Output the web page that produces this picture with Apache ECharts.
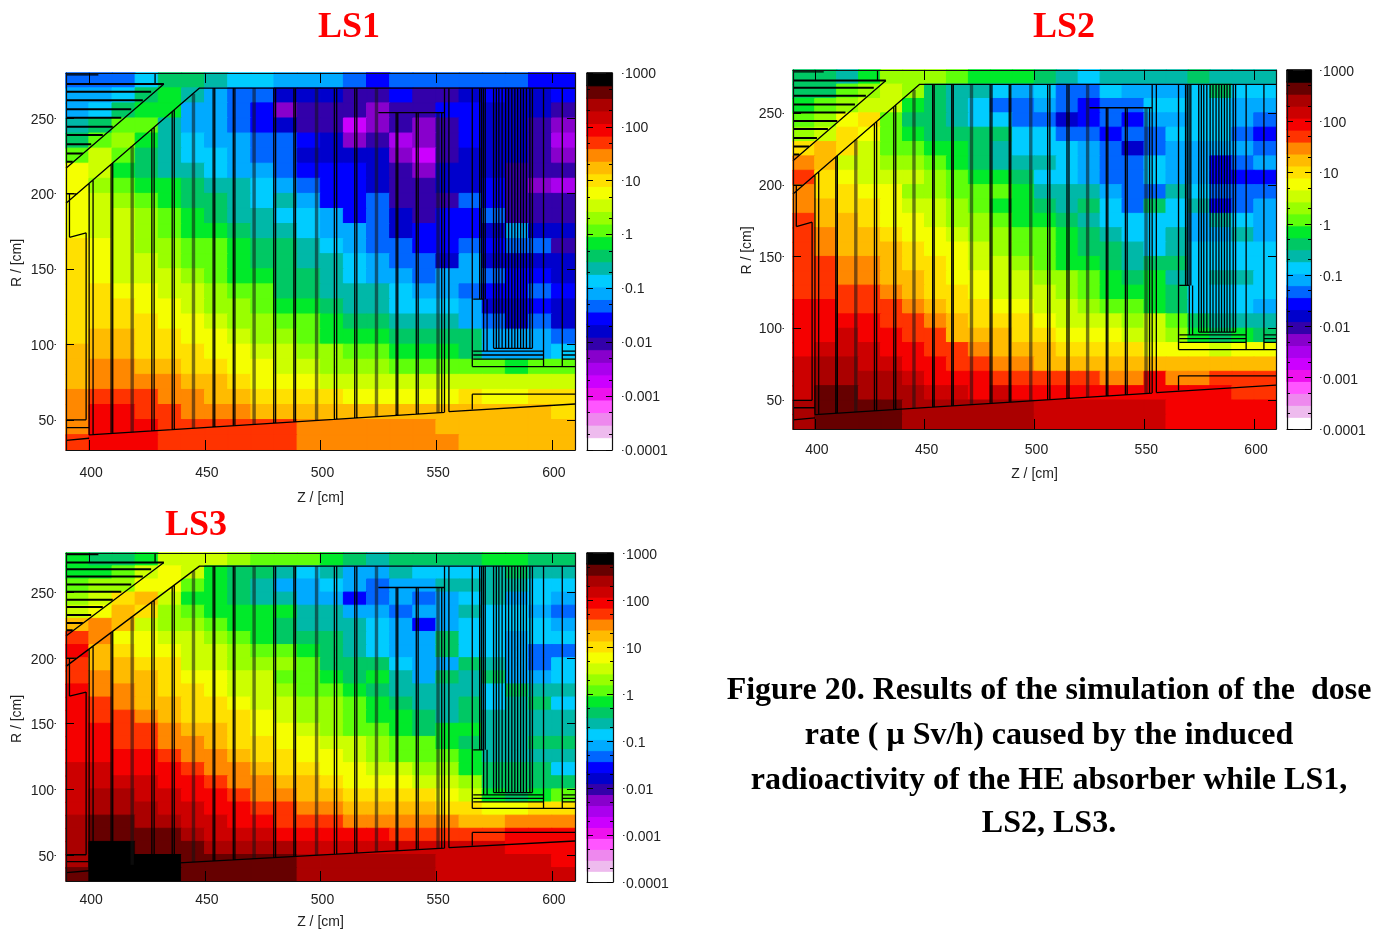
<!DOCTYPE html>
<html><head><meta charset="utf-8">
<style>html,body{margin:0;padding:0;background:#fff}#c{width:1374px;height:930px}</style>
<script src="https://cdn.jsdelivr.net/npm/echarts@6/dist/echarts.min.js"></script>
</head><body><div id="c"></div>
<script>
// colour scale: 30 levels over 7 decades (level 0 = 0.0001 ... level 29 = 1000)
const palette = ['#ffffff','#eebbee','#ee88ee','#ff55ff','#ee11ee','#cc00ff','#aa00ee','#8800cc','#3300aa','#0000cc',
 '#0000ff','#0066ff','#00aaff','#00ccff','#00b8a8','#00c864','#00ea2a','#5fff0a','#99ff00','#ccff00',
 '#f5ff00','#ffe000','#ffbb00','#ff8800','#ff3300','#f50000','#cc0000','#aa0000','#660000','#000000'];
const zBins = [390,400,410,420,430,440,450,460,470,480,490,500,510,520,530,540,550,560,570,580,590,600];
const rBins = [270,260,250,240,230,220,210,200,190,180,170,160,150,140,130,120,110,100,90,80,70,60,50,40,30];
const zTicks = [400,450,500,550,600];
const rTicks = [50,100,150,200,250];
const scaleLabels = ['0.0001','0.001','0.01','0.1','1','10','100','1000'];
const scaleMajor = [-4,-3,-2,-1,0,1,2,3];
const scaleMinor = [-3.699,-3.301,-2.699,-2.301,-1.699,-1.301,-0.699,-0.301,0.301,0.699,1.301,1.699,2.301,2.699];

const ls1 = [
[11,11,11,13,15,15,14,13,13,12,12,12,11,10,11,11,11,11,11,11,10,10],
[12,12,13,15,16,14,12,11,11,9,9,9,8,8,10,8,8,9,10,9,9,10],
[12,13,15,16,16,12,12,11,10,7,8,8,8,7,8,8,10,10,9,9,9,8],
[14,15,17,17,14,12,12,11,10,9,8,8,5,7,8,7,8,10,9,9,8,7],
[15,17,18,16,14,13,12,12,11,11,10,9,7,8,6,7,8,10,9,9,8,6],
[17,19,17,15,14,13,13,12,11,11,9,9,9,9,7,5,8,9,9,9,8,7],
[20,19,16,15,14,14,13,12,12,11,10,10,10,9,8,7,9,9,9,8,8,8],
[20,18,17,16,16,15,14,14,13,12,11,10,10,9,8,8,9,9,10,8,7,6],
[20,19,18,17,16,15,15,14,13,14,12,10,10,11,8,8,8,11,10,8,8,8],
[20,19,19,18,17,16,15,14,14,13,13,12,10,11,9,8,10,10,11,8,8,8],
[20,19,19,18,17,16,16,15,14,14,13,12,12,11,9,10,10,10,9,12,9,9],
[21,20,19,18,18,17,17,16,15,15,14,13,12,11,11,10,10,11,10,11,11,8],
[21,20,19,19,18,17,17,16,15,15,14,14,13,12,11,11,9,12,9,9,9,9],
[21,20,19,19,19,18,17,16,16,15,15,14,13,12,12,11,12,12,11,10,10,9],
[21,21,20,20,19,19,18,17,17,15,15,14,14,14,13,12,12,11,10,10,11,10],
[21,21,21,20,20,19,18,18,17,16,16,15,14,14,13,13,13,12,9,9,10,9],
[21,21,21,21,20,20,19,18,18,17,17,16,15,15,14,14,14,12,11,9,11,9],
[21,22,22,21,21,20,20,19,18,18,17,16,16,16,15,15,15,15,12,12,12,11],
[22,22,22,21,21,21,20,20,19,19,18,18,17,17,16,16,16,15,12,12,12,13],
[22,23,23,22,22,21,21,20,20,19,19,18,18,18,17,17,17,17,17,16,17,17],
[22,23,23,23,23,22,22,21,20,20,20,19,19,19,19,19,19,19,19,19,19,19],
[23,24,24,24,23,23,22,22,21,21,21,21,20,20,20,20,20,21,20,20,21,21],
[23,25,25,24,24,23,23,23,22,22,22,22,22,22,22,22,22,22,22,22,22,21],
[23,25,25,25,24,24,24,24,24,24,23,23,23,23,23,23,22,22,22,22,22,22],
[24,25,25,25,24,24,24,24,24,24,23,23,23,23,23,23,23,22,22,22,22,22]];

const ls2 = [
[15,15,14,16,18,18,18,17,16,16,16,15,14,13,14,14,14,14,15,14,14,14],
[15,15,17,18,19,18,15,14,14,13,12,13,11,11,13,12,12,12,13,15,13,13],
[16,17,18,19,19,16,15,14,13,11,11,12,11,10,11,11,13,13,13,13,12,12],
[17,18,20,21,17,15,15,14,13,13,11,11,9,10,11,10,12,12,13,13,12,11],
[18,19,21,20,17,16,15,15,15,15,13,13,11,11,10,11,11,13,13,13,11,10],
[21,22,21,19,17,17,16,16,15,14,13,13,13,12,11,9,11,12,12,12,12,11],
[23,22,19,19,18,18,17,16,15,14,14,14,13,12,11,11,13,12,12,10,11,12],
[24,21,20,19,19,19,18,17,16,16,15,13,13,12,11,11,13,12,12,10,10,10],
[23,21,21,20,20,18,18,17,17,17,16,14,14,14,12,11,11,14,13,11,11,11],
[23,22,21,21,20,19,19,18,17,16,16,15,14,15,13,11,15,13,14,10,11,12],
[24,22,22,21,20,20,19,18,18,17,16,16,15,14,13,13,13,13,12,14,13,12],
[24,23,22,22,21,20,20,19,18,18,17,17,16,15,14,13,13,14,12,12,14,12],
[24,23,22,22,22,21,20,20,19,18,17,17,16,15,15,14,13,14,13,13,13,13],
[24,24,23,23,22,21,21,20,19,19,18,17,16,16,15,14,15,15,13,13,13,13],
[24,24,23,23,22,22,21,20,20,19,19,18,18,17,16,15,16,14,13,14,14,13],
[24,24,24,24,23,22,21,21,20,19,19,19,18,17,16,16,16,15,13,13,13,13],
[25,25,24,24,24,23,22,21,21,20,20,19,19,18,17,17,16,15,13,13,13,12],
[25,25,25,25,24,24,23,22,21,21,21,20,19,19,19,18,19,17,15,14,14,14],
[25,25,26,25,25,24,24,22,22,22,21,21,20,20,20,19,19,18,16,15,16,15],
[25,26,26,26,25,25,24,24,23,22,22,22,21,21,21,21,20,20,20,19,20,20],
[26,27,27,26,26,25,25,24,24,23,23,22,22,22,22,22,22,22,22,22,22,22],
[26,27,27,27,27,26,25,25,25,24,24,24,24,24,23,23,25,23,23,24,24,24],
[26,28,28,27,27,27,26,26,25,26,25,25,25,25,25,25,25,25,25,25,24,24],
[27,28,28,28,28,27,27,27,27,27,27,26,26,26,26,26,26,25,25,25,25,25],
[27,28,28,28,28,27,27,27,27,27,27,26,26,26,26,26,26,25,25,25,25,25]];

const ls3 = [
[16,15,15,16,19,19,19,18,17,17,17,16,15,14,15,15,15,15,16,16,15,15],
[16,16,17,19,20,19,16,15,15,14,13,14,12,12,14,13,13,13,14,15,14,14],
[17,18,18,20,20,17,16,15,14,12,12,13,12,11,12,12,14,14,14,14,13,13],
[18,19,21,22,19,16,16,15,14,14,12,12,10,11,12,11,12,13,14,12,13,12],
[19,20,22,21,18,17,16,16,16,16,14,14,12,12,11,12,12,14,13,13,12,11],
[22,23,22,19,18,18,17,16,16,15,14,14,14,13,12,10,12,13,13,13,13,12],
[24,23,20,20,19,19,18,17,16,15,15,15,14,13,12,12,15,13,13,12,13,13],
[25,22,21,20,20,19,19,18,17,17,16,15,14,13,12,12,15,13,13,12,11,11],
[24,22,22,21,21,19,19,18,18,18,17,15,15,15,13,12,12,15,14,12,11,13],
[24,23,22,22,21,20,20,19,19,17,17,16,15,16,14,12,15,14,15,12,12,13],
[25,23,23,22,21,21,20,19,19,18,17,17,16,15,14,14,14,14,13,15,14,14],
[25,24,23,22,22,21,21,20,19,19,18,18,17,16,15,14,14,15,13,14,15,13],
[25,24,24,23,22,21,21,21,20,19,18,18,17,16,16,15,14,15,14,14,14,14],
[25,25,24,24,23,22,22,21,20,20,19,18,17,17,16,15,16,16,14,14,14,14],
[25,25,24,24,23,23,22,21,21,20,20,19,19,18,17,17,16,15,14,14,15,15],
[25,25,25,25,24,23,23,22,21,21,20,20,19,18,17,17,17,16,14,14,14,14],
[26,26,25,25,25,24,23,23,22,21,21,20,20,19,19,18,18,16,15,15,15,13],
[26,26,26,26,25,25,24,23,23,22,22,21,20,20,20,19,19,18,15,15,15,15],
[26,27,27,26,26,25,25,24,23,23,22,22,21,21,21,21,20,19,16,15,16,17],
[26,27,27,27,26,26,25,25,24,24,23,23,22,22,22,22,21,21,20,20,21,21],
[27,28,28,27,27,26,26,25,25,24,24,24,23,23,23,23,23,22,22,23,23,23],
[27,28,28,28,28,27,26,26,26,25,25,25,25,25,24,24,24,24,24,25,25,25],
[27,29,29,28,28,28,27,27,27,27,26,26,26,26,26,26,26,26,26,25,25,25],
[27,29,29,29,29,28,28,28,28,28,27,27,27,27,27,27,26,26,26,26,26,25],
[28,29,29,29,29,28,28,28,28,28,27,27,27,27,27,27,26,26,26,26,26,26]];

// absorber geometry, [Z, R] end points of outline segments
const hatch = [[272.7,432.3],[267.6,426.8],[262,423.2],[255.9,418.2],[250.4,413.9],[244.4,410.2],[238.9,405.9],[232.7,400.9],[226.7,397.3],[221.2,392.9]];
const thinVerticals = [ // Z, R bottom, R top
[400,40,207],[401.7,40.2,209],[409.5,40.9,219.5],[410.2,41,220.5],[427.1,42.6,242.6],[428.1,42.7,243.9],
[435.9,43.5,254.1],[436.8,43.6,255.3],[453.6,45.2,270],[454.3,45.3,270],[462.3,46.1,270],[463,46.2,270],
[479.8,47.8,270],[480.6,47.9,270],[488.5,48.6,270],[489.2,48.7,270],[506,50.4,270],[507,50.5,270],
[514.8,51.2,270],[515.7,51.3,270],[532.7,53,253.7],[533.4,53,253.7],[541.4,53.8,253.7],[542.2,53.9,253.7],
[552.4,54.9,253.7],[553.6,55,270],[555.5,55.4,270],
[565.6,85.3,270],[596.4,85.3,270],[604.5,85.3,270],
[568.8,130,270],[569.6,130,270],[570.4,130,270],[571.2,130,270],
[570.5,95.6,130],[572,95.6,130],
[574.8,97.4,270],[576,97.4,270],[577.1,97.4,270],[578.5,97.4,270],[580,97.4,270],[581.3,97.4,270],[582.7,97.4,270],
[584,97.4,270],[585.2,97.4,270],[586.5,97.4,270],[587.7,97.4,270],[589,97.4,270],[590.5,97.4,270],[591.6,97.4,270],
[428.5,272.7,280],[391.5,171,199.8],[398.7,50,174],[565.6,57,67]];
const thickVerticals = [[418.6,41.8,231.4],[445.1,44.4,266.2],[471.3,47,270],[498.3,49.6,270],[524.2,52.1,270],[550.8,54.7,253.7]];
const outline = [
[[390,193.6],[447.7,270],[610,270]],
[[390,216.8],[432.3,272.7]],
[[390,36.4],[400,37.8]],
[[400,40],[553.6,55]],
[[555.5,55.4],[610,60.5]],
[[525,253.7],[553.6,253.7]],
[[566,130],[570.5,130]],
[[574.8,97.4],[591.6,97.4]],
[[566,95.6],[596.4,95.6]],[[566,93],[596.4,93]],[[566,90.3],[596.4,90.3]],
[[604.5,95.6],[610,95.6]],[[604.5,93],[610,93]],[[604.5,90.3],[610,90.3]],
[[565.6,85.3],[610,85.3]],
[[565.6,67],[610,67]],
[[390,278.7],[404,278.7]],
[[390,199.8],[395,199.8]],
[[391.5,171],[398.7,174]],
[[390,50],[398.7,50]],
[[390,44.8],[400,44.8]]];

function gapped(segs){const o=[];segs.forEach(s=>{s.forEach(p=>o.push(p));o.push(['-','-']);});return o;}
const hatchData = gapped(hatch.map(h=>[[390,h[0]],[h[1],h[0]]]));
const thinData = gapped(outline.concat(thinVerticals.map(v=>[[v[0],v[1]],[v[0],v[2]]])));
const thickData = gapped(thickVerticals.map(v=>[[v[0],v[1]],[v[0],v[2]]]));

const panels = [
 {name:'LS1',data:ls1,rect:[66,73,509,377],bar:[587,73,25,377],xm:16,xn:41,yo:10,yn:32,bo:10,ls:1.5,bs:1,bm:3},
 {name:'LS2',data:ls2,rect:[793,70,483,359],bar:[1287,70,24,359],xm:14,xn:38,yo:9,yn:30,bo:9,ls:1,bs:2,bm:3},
 {name:'LS3',data:ls3,rect:[66,553,509,329],bar:[587,553,26,329],xm:12,xn:34,yo:10,yn:32,bo:10,ls:1.5,bs:2,bm:3}];

const font='"Liberation Sans",Arial,sans-serif', serif='"Liberation Serif","Times New Roman",serif', ink='#222';
const grids=[],xAxes=[],yAxes=[],series=[],heatIdx=[];
const off={show:false};
const vAxis=(o)=>Object.assign({type:'value',z:5,splitLine:off,minorTick:off,axisLine:off,axisTick:off,axisLabel:off},o);
const inside=(len,vals)=>({show:true,inside:true,length:len,customValues:vals,lineStyle:{color:'#000',width:1}});
const dot=(vals)=>({show:true,length:1.5,customValues:vals,lineStyle:{color:'#333',width:1}});
const frame={show:true,onZero:false,lineStyle:{color:'#111',width:1.2}};
const cell=(c,r,lv)=>({value:[c,r,lv],itemStyle:{borderColor:palette[lv],borderWidth:1}});
const blankX=(g)=>({type:'value',gridIndex:g,min:0,max:1,show:false});

panels.forEach(p=>{
 const g=grids.length;
 grids.push({left:p.rect[0],top:p.rect[1],width:p.rect[2],height:p.rect[3]});
 grids.push({left:p.bar[0],top:p.bar[1],width:p.bar[2],height:p.bar[3]});
 // separate grids that only hold the label axes, nudged to sit where the reference labels sit
 grids.push({left:p.rect[0],top:p.rect[1]+p.ls,width:p.rect[2],height:p.rect[3]});
 grids.push({left:p.bar[0],top:p.bar[1]+p.bs,width:p.bar[2],height:p.bar[3]});
 // main plot axes
 const xCat=xAxes.length;
 xAxes.push({type:'category',gridIndex:g,data:zBins,show:false});
 const xVal=xAxes.length;
 const zr={min:390,max:610,gridIndex:g};
 xAxes.push(vAxis(Object.assign({},zr,{position:'bottom',axisLine:frame,axisTick:inside(10,zTicks),
   axisLabel:{show:true,customValues:zTicks,margin:p.xm,fontFamily:font,fontSize:14,color:ink,padding:[0,0,0,4]},
   name:'Z / [cm]',nameLocation:'middle',nameGap:p.xn,nameTextStyle:{fontFamily:font,fontSize:14,color:ink}})));
 xAxes.push(vAxis(Object.assign({},zr,{position:'top',axisLine:frame,axisTick:inside(10,zTicks)})));
 xAxes.push(blankX(g+2));
 const yCat=yAxes.length;
 yAxes.push({type:'category',gridIndex:g,data:rBins.slice().reverse(),show:false});
 const yVal=yAxes.length;
 const rr={min:30,max:280,gridIndex:g};
 yAxes.push(vAxis(Object.assign({},rr,{position:'left',axisLine:frame,axisTick:inside(8,rTicks)})));
 yAxes.push(vAxis(Object.assign({},rr,{position:'right',axisLine:frame,axisTick:inside(8,rTicks)})));
 yAxes.push(vAxis(Object.assign({},rr,{position:'left',offset:p.yo,axisTick:dot(rTicks)})));
 yAxes.push(vAxis(Object.assign({},rr,{gridIndex:g+2,position:'left',offset:p.yo,
   axisLabel:{show:true,customValues:rTicks,margin:2,fontFamily:font,fontSize:14,color:ink},
   name:'R / [cm]',nameLocation:'middle',nameGap:p.yn,nameRotate:90,nameTextStyle:{fontFamily:font,fontSize:14,color:ink}})));
 const cells=[];
 p.data.forEach((row,r)=>row.forEach((lv,c)=>cells.push(cell(c,24-r,lv))));
 heatIdx.push(series.length);
 series.push({type:'heatmap',name:p.name,xAxisIndex:xCat,yAxisIndex:yCat,data:cells,progressive:0,silent:true,z:2});
 series.push({type:'line',xAxisIndex:xVal,yAxisIndex:yVal,data:thickData,showSymbol:false,silent:true,z:3,
   lineStyle:{color:'rgba(20,20,20,0.55)',width:3.4,cap:'butt'}});
 series.push({type:'line',xAxisIndex:xVal,yAxisIndex:yVal,data:thinData,showSymbol:false,silent:true,z:4,
   lineStyle:{color:'#000',width:1.3,cap:'butt'}});
 series.push({type:'line',xAxisIndex:xVal,yAxisIndex:yVal,data:hatchData,showSymbol:false,silent:true,z:4,
   lineStyle:{color:'#000',width:2,cap:'butt'}});
 // colour bar
 const bx=xAxes.length;
 xAxes.push({type:'category',gridIndex:g+1,data:['scale'],position:'bottom',z:5,axisLine:frame,axisTick:off,axisLabel:off});
 xAxes.push({type:'category',gridIndex:g+1,data:['scale'],position:'top',z:5,axisLine:frame,axisTick:off,axisLabel:off});
 xAxes.push(blankX(g+3));
 const by=yAxes.length;
 yAxes.push({type:'category',gridIndex:g+1,data:palette.map((_,i)=>i),show:false});
 const er={min:-4,max:3,gridIndex:g+1};
 yAxes.push(vAxis(Object.assign({},er,{position:'left',axisLine:frame,axisTick:inside(6,scaleMajor)})));
 yAxes.push(vAxis(Object.assign({},er,{position:'right',axisLine:frame,axisTick:inside(6,scaleMajor)})));
 yAxes.push(vAxis(Object.assign({},er,{position:'left',axisTick:inside(3,scaleMinor)})));
 yAxes.push(vAxis(Object.assign({},er,{position:'right',axisTick:inside(3,scaleMinor)})));
 yAxes.push(vAxis(Object.assign({},er,{position:'right',offset:p.bo,axisTick:dot(scaleMajor)})));
 yAxes.push(vAxis(Object.assign({},er,{gridIndex:g+3,position:'right',offset:p.bo,
   axisLabel:{show:true,customValues:scaleMajor,margin:p.bm,fontFamily:font,fontSize:14,color:ink,
     formatter:v=>scaleLabels[Math.round(v)+4]}})));
 heatIdx.push(series.length);
 series.push({type:'heatmap',name:p.name+' scale',xAxisIndex:bx,yAxisIndex:by,data:palette.map((_,i)=>cell(0,i,i)),progressive:0,silent:true,z:2});
});

const titleStyle={fontFamily:serif,fontWeight:'bold',fontSize:36,color:'#ff0000'};
const capStyle={fontFamily:serif,fontWeight:'bold',fontSize:32,color:'#000'};
const captionLines=[['Figure 20. Results of the simulation of the  dose',675],['rate ( μ Sv/h) caused by the induced',720],
 ['radioactivity of the HE absorber while LS1,',765],['LS2, LS3.',808]];
const titles=[
 {text:'LS1',left:344,top:5,textAlign:'center',textStyle:titleStyle},
 {text:'LS2',left:1059,top:5,textAlign:'center',textStyle:titleStyle},
 {text:'LS3',left:191,top:503,textAlign:'center',textStyle:titleStyle}
].concat(captionLines.map(l=>({text:l[0],left:1049,top:l[1],textAlign:'center',padding:0,textStyle:capStyle})));

const chart=echarts.init(document.getElementById('c'));
chart.setOption({animation:false,backgroundColor:'#fff',title:titles,grid:grids,xAxis:xAxes,yAxis:yAxes,series:series,
 tooltip:{show:false},
 visualMap:{type:'piecewise',show:false,dimension:2,seriesIndex:heatIdx,
   pieces:palette.map((c,i)=>({value:i,color:c}))}});
</script></body></html>
